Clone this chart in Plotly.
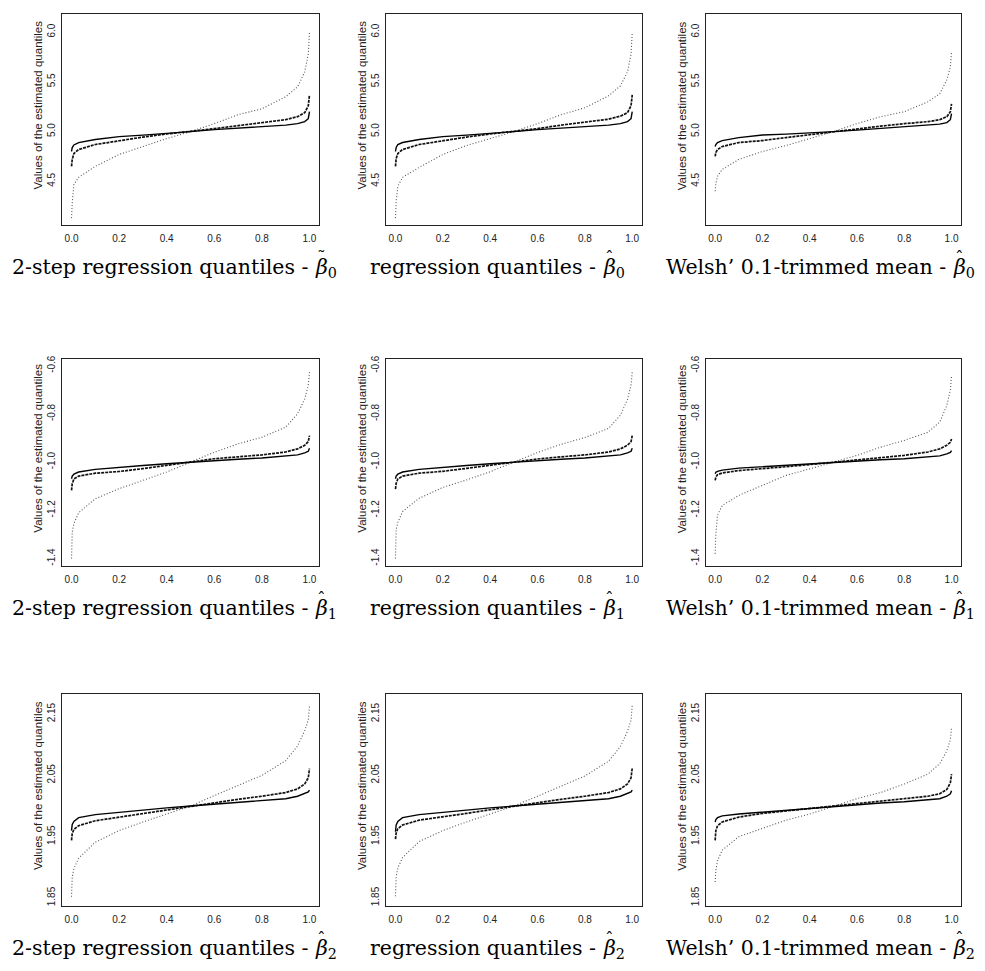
import plotly.graph_objects as go

# quantile levels
P = [0, 0.003, 0.01, 0.03, 0.1, 0.2, 0.3, 0.4, 0.5, 0.6, 0.7, 0.8, 0.9, 0.95, 0.98, 0.995, 1.0]

# ---- row 1 : beta_0 ----
r1c1_outer = [4.13, 4.28, 4.47, 4.54, 4.65, 4.77, 4.85, 4.93, 5.0, 5.08, 5.17, 5.23, 5.35, 5.45, 5.60, 5.78, 6.0]
r1c1_mid = [4.65, 4.72, 4.78, 4.82, 4.87, 4.91, 4.945, 4.976, 5.0, 5.03, 5.06, 5.09, 5.12, 5.15, 5.19, 5.26, 5.37]
r1c1_solid = [4.80, 4.84, 4.866, 4.89, 4.92, 4.95, 4.965, 4.98, 5.0, 5.02, 5.035, 5.05, 5.065, 5.08, 5.10, 5.13, 5.20]

r1c2_outer = [4.13, 4.30, 4.45, 4.54, 4.64, 4.77, 4.86, 4.93, 5.0, 5.08, 5.17, 5.24, 5.36, 5.46, 5.60, 5.78, 6.0]
r1c2_mid = [4.65, 4.73, 4.78, 4.82, 4.87, 4.91, 4.945, 4.976, 5.0, 5.03, 5.065, 5.095, 5.125, 5.155, 5.19, 5.26, 5.37]
r1c2_solid = [4.80, 4.84, 4.87, 4.89, 4.92, 4.95, 4.965, 4.98, 5.0, 5.02, 5.035, 5.05, 5.065, 5.08, 5.10, 5.13, 5.20]

r1c3_outer = [4.40, 4.48, 4.55, 4.62, 4.72, 4.80, 4.86, 4.93, 5.0, 5.08, 5.15, 5.20, 5.30, 5.38, 5.52, 5.65, 5.80]
r1c3_mid = [4.75, 4.79, 4.82, 4.85, 4.89, 4.91, 4.94, 4.97, 5.0, 5.03, 5.055, 5.08, 5.10, 5.12, 5.15, 5.20, 5.28]
r1c3_solid = [4.85, 4.87, 4.89, 4.91, 4.94, 4.966, 4.975, 4.985, 5.0, 5.015, 5.03, 5.045, 5.06, 5.075, 5.09, 5.12, 5.18]

# ---- row 2 : beta_1 ----
r2c1_outer = [-1.40, -1.29, -1.255, -1.21, -1.152, -1.11, -1.076, -1.041, -1.0, -0.959, -0.924, -0.897, -0.855, -0.80, -0.738, -0.68, -0.627]
r2c1_mid = [-1.117, -1.09, -1.07, -1.058, -1.046, -1.039, -1.027, -1.014, -1.0, -0.986, -0.978, -0.970, -0.958, -0.945, -0.930, -0.915, -0.89]
r2c1_solid = [-1.069, -1.058, -1.05, -1.041, -1.03, -1.021, -1.014, -1.007, -1.0, -0.993, -0.988, -0.983, -0.976, -0.97, -0.962, -0.955, -0.942]

r2c2_outer = [-1.40, -1.28, -1.25, -1.205, -1.15, -1.105, -1.074, -1.040, -1.0, -0.96, -0.926, -0.898, -0.86, -0.805, -0.74, -0.68, -0.627]
r2c2_mid = [-1.112, -1.088, -1.07, -1.058, -1.046, -1.038, -1.026, -1.013, -1.0, -0.987, -0.978, -0.970, -0.958, -0.945, -0.930, -0.915, -0.89]
r2c2_solid = [-1.069, -1.058, -1.05, -1.041, -1.03, -1.021, -1.014, -1.007, -1.0, -0.993, -0.988, -0.983, -0.976, -0.97, -0.962, -0.955, -0.942]

r2c3_outer = [-1.38, -1.30, -1.22, -1.18, -1.138, -1.097, -1.055, -1.028, -1.0, -0.972, -0.938, -0.910, -0.876, -0.834, -0.765, -0.70, -0.641]
r2c3_mid = [-1.076, -1.062, -1.052, -1.045, -1.035, -1.028, -1.019, -1.01, -1.0, -0.99, -0.981, -0.972, -0.958, -0.945, -0.93, -0.918, -0.904]
r2c3_solid = [-1.048, -1.042, -1.038, -1.033, -1.025, -1.019, -1.012, -1.006, -1.0, -0.994, -0.99, -0.986, -0.98, -0.974, -0.966, -0.960, -0.952]

# ---- row 3 : beta_2 ----
r3c1_outer = [1.852, 1.884, 1.898, 1.915, 1.941, 1.96, 1.974, 1.987, 2.0, 2.017, 2.033, 2.050, 2.074, 2.098, 2.123, 2.14, 2.164]
r3c1_mid = [1.944, 1.955, 1.962, 1.968, 1.976, 1.982, 1.988, 1.994, 2.0, 2.005, 2.011, 2.016, 2.022, 2.028, 2.036, 2.046, 2.061]
r3c1_solid = [1.960, 1.970, 1.975, 1.981, 1.986, 1.99, 1.994, 1.997, 2.0, 2.003, 2.005, 2.008, 2.012, 2.016, 2.020, 2.023, 2.026]

r3c2_outer = [1.853, 1.885, 1.899, 1.916, 1.942, 1.96, 1.974, 1.987, 2.0, 2.016, 2.032, 2.049, 2.073, 2.097, 2.122, 2.14, 2.165]
r3c2_mid = [1.946, 1.956, 1.963, 1.969, 1.977, 1.982, 1.988, 1.994, 2.0, 2.005, 2.011, 2.016, 2.022, 2.028, 2.036, 2.046, 2.062]
r3c2_solid = [1.958, 1.969, 1.975, 1.981, 1.986, 1.99, 1.994, 1.997, 2.0, 2.003, 2.005, 2.008, 2.012, 2.016, 2.020, 2.023, 2.026]

r3c3_outer = [1.876, 1.895, 1.911, 1.928, 1.95, 1.963, 1.977, 1.987, 2.0, 2.012, 2.022, 2.036, 2.052, 2.069, 2.09, 2.108, 2.128]
r3c3_mid = [1.944, 1.960, 1.968, 1.974, 1.982, 1.988, 1.992, 1.996, 2.0, 2.005, 2.009, 2.012, 2.016, 2.020, 2.027, 2.038, 2.052]
r3c3_solid = [1.974, 1.978, 1.981, 1.984, 1.987, 1.99, 1.994, 1.997, 2.0, 2.003, 2.005, 2.007, 2.01, 2.012, 2.016, 2.020, 2.025]

panels = [
    [(r1c1_outer, r1c1_mid, r1c1_solid), (r1c2_outer, r1c2_mid, r1c2_solid), (r1c3_outer, r1c3_mid, r1c3_solid)],
    [(r2c1_outer, r2c1_mid, r2c1_solid), (r2c2_outer, r2c2_mid, r2c2_solid), (r2c3_outer, r2c3_mid, r2c3_solid)],
    [(r3c1_outer, r3c1_mid, r3c1_solid), (r3c2_outer, r3c2_mid, r3c2_solid), (r3c3_outer, r3c3_mid, r3c3_solid)],
]

x_ticks = [0.0, 0.2, 0.4, 0.6, 0.8, 1.0]
x_ticklabels = ["0.0", "0.2", "0.4", "0.6", "0.8", "1.0"]
y_ticks = [[4.5, 5.0, 5.5, 6.0], [-1.4, -1.2, -1.0, -0.8, -0.6], [1.85, 1.95, 2.05, 2.15]]
y_ticklabels = [["4.5", "5.0", "5.5", "6.0"], ["-1.4", "-1.2", "-1.0", "-0.8", "-0.6"], ["1.85", "1.95", "2.05", "2.15"]]
y_ranges = [[4.06, 6.183], [-1.431, -0.573], [1.837, 2.183]]

ylabel = "Values of the estimated quantiles"
caption_main = ["2-step regression quantiles -", "regression quantiles -", "Welsh\u2019 0.1-trimmed mean -"]
caption_sub = ["0", "1", "2"]
# accent over beta: tilde for the first panel, hat elsewhere
caption_accent = [["\u02dc", "\u02c6", "\u02c6"], ["\u02c6", "\u02c6", "\u02c6"], ["\u02c6", "\u02c6", "\u02c6"]]

W, H = 985, 971
col_px = [(62, 319), (386, 641.7), (705.7, 961)]
row_px = [(10, 222), (356.7, 564.3), (692.7, 905.7)]
beta_x = [313, 601, 951]   # left edge of the beta symbol in each caption column

fig = go.Figure()
layout = dict(width=W, height=H, margin=dict(l=0, r=0, t=0, b=0),
              paper_bgcolor="white", plot_bgcolor="white", showlegend=False)
annotations = []

sans = "Liberation Sans, Arial, sans-serif"
serif = "DejaVu Serif, serif"
cap_size = 20.5
k = 0
for r in range(3):
    for c in range(3):
        k += 1
        xa = "x" if k == 1 else f"x{k}"
        ya = "y" if k == 1 else f"y{k}"
        outer, mid, solid = panels[r][c]
        fig.add_trace(go.Scatter(x=P, y=outer, mode="lines", xaxis=xa, yaxis=ya,
                                 line=dict(color="#555555", width=1.1, dash="1px,2px")))
        fig.add_trace(go.Scatter(x=P, y=mid, mode="lines", xaxis=xa, yaxis=ya,
                                 line=dict(color="#111111", width=1.7, dash="3px,1px")))
        fig.add_trace(go.Scatter(x=P, y=solid, mode="lines", xaxis=xa, yaxis=ya,
                                 line=dict(color="black", width=1.4)))
        x0, x1 = col_px[c]
        y0, y1 = row_px[r]
        xkey = "xaxis" if k == 1 else f"xaxis{k}"
        ykey = "yaxis" if k == 1 else f"yaxis{k}"
        layout[xkey] = dict(domain=[x0 / W, x1 / W], anchor=ya, range=[-0.04, 1.04],
                            tickvals=x_ticks, ticktext=x_ticklabels, ticks="",
                            ticklabelstandoff=4,
                            showgrid=False, zeroline=False, showline=True, mirror=True,
                            linecolor="#222222", linewidth=1,
                            tickfont=dict(family=sans, size=10, color="#222222"))
        layout[ykey] = dict(domain=[1 - y1 / H, 1 - y0 / H], anchor=xa, range=y_ranges[r],
                            tickvals=y_ticks[r], ticktext=y_ticklabels[r], ticks="",
                            tickangle=-90, ticklabelstandoff=2,
                            showgrid=False, zeroline=False, showline=True, mirror=True,
                            linecolor="#222222", linewidth=1,
                            tickfont=dict(family=sans, size=10, color="#222222"))
        # y-axis label
        annotations.append(dict(text=ylabel, xref="paper", yref="paper",
                                x=(x0 - 24) / W, y=1 - ((y0 + y1) / 2 - 14) / H,
                                xanchor="center", yanchor="middle", textangle=-90,
                                showarrow=False, font=dict(family=sans, size=11.5, color="#222222")))
        # panel caption: text, beta with subscript, accent above beta
        top = y1 + 28
        bx = beta_x[c]
        annotations.append(dict(text=caption_main[c], xref="paper", yref="paper",
                                x=(bx - 3.5) / W, y=1 - top / H, xanchor="right", yanchor="top",
                                showarrow=False, font=dict(family=serif, size=cap_size, color="black")))
        annotations.append(dict(text="<i>β</i><sub>" + caption_sub[r] + "</sub>", xref="paper", yref="paper",
                                x=bx / W, y=1 - top / H, xanchor="left", yanchor="top",
                                showarrow=False, font=dict(family=serif, size=cap_size, color="black")))
        annotations.append(dict(text=caption_accent[r][c], xref="paper", yref="paper",
                                x=(bx + 8) / W, y=1 - (top - 8) / H, xanchor="center", yanchor="top",
                                showarrow=False, font=dict(family=serif, size=cap_size - 3, color="black")))

layout["annotations"] = annotations
fig.update_layout(**layout)
fig.write_html("out.html", post_script="document.body.style.margin='0';",
               config={"displayModeBar": False})
